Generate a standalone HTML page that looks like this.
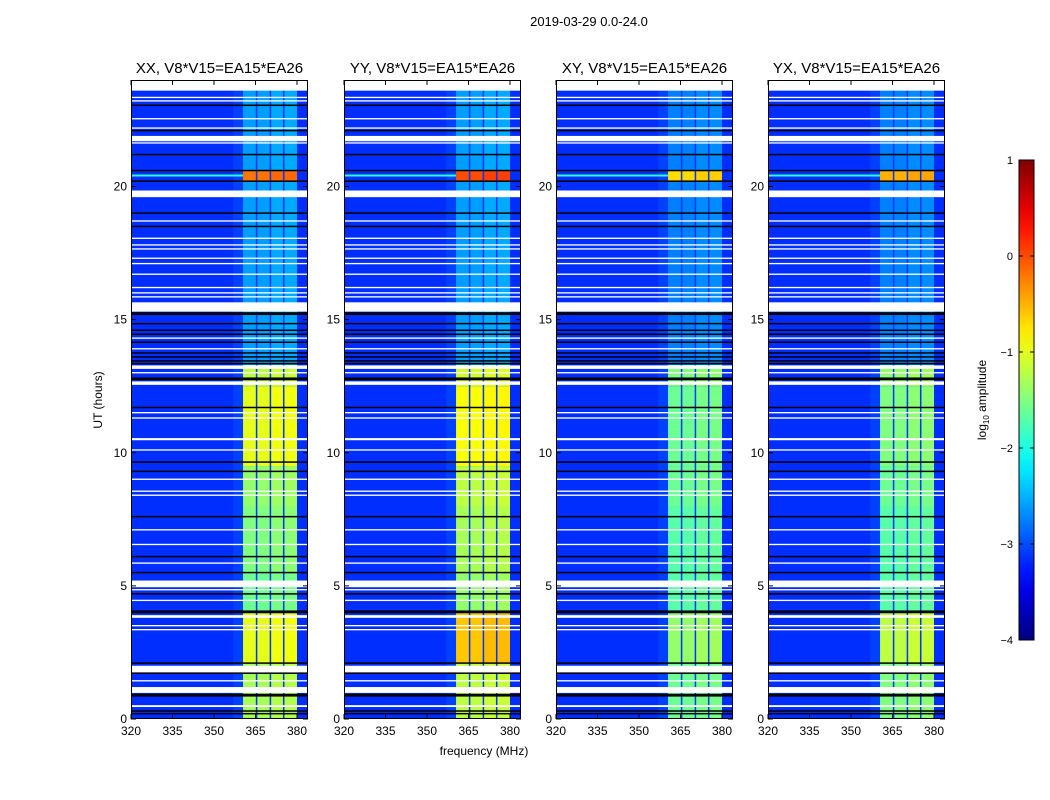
<!DOCTYPE html>
<html><head><meta charset="utf-8"><style>
html,body{margin:0;padding:0;background:#fff;}
svg{display:block;font-family:"Liberation Sans",sans-serif;}
</style></head><body>
<svg id="fig" width="1050" height="800" viewBox="0 0 1050 800"></svg>
<script>
// ---- data ----
const panelTitles = ["XX, V8*V15=EA15*EA26","YY, V8*V15=EA15*EA26","XY, V8*V15=EA15*EA26","YX, V8*V15=EA15*EA26"];
const xTicks = [320,335,350,365,380];
const yTicks = [0,5,10,15,20];
const cbTicks = [1,0,-1,-2,-3,-4];
const backgroundLevel = [-3.15,-3.15,-3.15,-3.15];
// band sub-channel edges (MHz)
const subBands = [[360.5,365.3],[365.3,370.3],[370.3,375.1],[375.1,380]];
// band segments: [start hour, end hour]
const segHours = [[0,2.1],[2.1,4],[4,5.5],[5.5,8],[8,9.5],[9.5,12.5],[12.5,13.3],[13.3,20.2],[20.2,20.6],[20.6,24]];
// log10 amplitude per segment, per panel
const bandXX = [-1.3,-1.0,-1.6,-1.5,-1.4,-1.0,-1.2,-2.6,-0.2,-2.6];
const bandYY = [-1.2,-0.6,-1.4,-1.3,-1.2,-0.9,-1.1,-2.6,0.0,-2.6];
const bandXY = [-1.6,-1.4,-1.7,-1.7,-1.6,-1.6,-1.5,-2.75,-0.7,-2.75];
const bandYX = [-1.5,-1.2,-1.7,-1.7,-1.6,-1.5,-1.4,-2.75,-0.5,-2.75];
const bandValues = [bandXX,bandYY,bandXY,bandYX];
// flagged (white) time ranges in hours
const whiteRows = [[23.6,24],[23.32,23.37],[23.19,23.24],[22.52,22.57],[22.17,22.22],[21.7,21.9],[21.62,21.66],[19.6,19.85],
 [18.68,18.73],[18.03,18.08],[17.78,17.83],[17.63,17.68],[17.28,17.33],[17.08,17.13],[16.68,16.73],[16.18,16.23],[15.98,16.03],[15.83,15.88],
 [15.3,15.65],[14.28,14.33],[13.88,13.93],[13.15,13.28],[12.98,13.03],[12.55,12.68],[11.48,11.53],[11.28,11.33],[10.47,10.55],[10.08,10.13],
 [8.98,9.03],[8.53,8.58],[8.38,8.43],[7.08,7.13],[6.53,6.58],[5.83,5.88],[4.95,5.2],[4.83,4.88],[4.43,4.48],[3.8,3.9],[3.48,3.53],[3.33,3.38],
 [1.75,2.0],[1.41,1.46],[0.98,1.2],[0.45,0.52]];
// black lines (hours)
const blackLines = [23.05,22.1,21.2,20.6,20.2,19.0,18.5,15.25,15.2,14.85,14.6,14.45,14.15,13.75,13.6,13.45,13.35,12.8,12.75,
 11.7,9.65,9.3,7.6,6.1,5.5,4.7,4.05,4.0,2.1,1.72,0.92,0.87,0.3,0.2];
// ---- geometry ----
const panelLeft = [131,344,556,768];
const PW = 177, TOP = 80, BOT = 719;
function X(f, p){ return panelLeft[p] + (f-320)*(166/60); }
function Y(h){ return BOT - h*(BOT-TOP)/24; }
function jet(v){
  let t = (v+4)/5; t = Math.max(0,Math.min(1,t));
  const r = Math.max(0,Math.min(1,1.5-Math.abs(4*t-3)));
  const g = Math.max(0,Math.min(1,1.5-Math.abs(4*t-2)));
  const b = Math.max(0,Math.min(1,1.5-Math.abs(4*t-1)));
  return `rgb(${Math.round(r*255)},${Math.round(g*255)},${Math.round(b*255)})`;
}
const NS="http://www.w3.org/2000/svg";
const svg=document.getElementById('fig');
function el(tag, attrs, parent){ const e=document.createElementNS(NS,tag); for(const k in attrs) e.setAttribute(k,attrs[k]); (parent||svg).appendChild(e); return e; }
function txt(s, attrs, parent){ const e=el('text',attrs,parent); e.textContent=s; return e; }

const title = txt("2019-03-29 0.0-24.0",{x:589,y:26,'font-size':13,'text-anchor':'middle'});



for(let p=0;p<4;p++){
  const g=el('g',{});
  
  
  const bg=el('rect',{x:panelLeft[p],y:TOP,width:PW,height:BOT-TOP,fill:jet(backgroundLevel[p])},g);
  
  
  el('rect',{x:X(357,p),y:TOP,width:X(360.5,p)-X(357,p),height:BOT-TOP,fill:jet(-3.0),opacity:0.6},g);
  for(let s=0;s<segHours.length;s++){
    for(let b=0;b<subBands.length;b++){
      const v = bandValues[p][s] + (b===2||b===3 ? 0.06 : 0);
      const r=el('rect',{x:X(subBands[b][0],p)+(b?1:0),y:Y(segHours[s][1]),width:X(subBands[b][1],p)-X(subBands[b][0],p)-(b?1:0),height:Y(segHours[s][0])-Y(segHours[s][1]),fill:jet(v)},g);
      
      
    }
  }
  for(let b=1;b<subBands.length;b++){
    el('rect',{x:X(subBands[b][0],p)-0.5,y:TOP,width:1.2,height:BOT-TOP,fill:jet(-3.1)},g);
  }
  el('rect',{x:panelLeft[p],y:Y(20.45),width:X(360.5,p)-panelLeft[p],height:2,fill:jet(-1.9)},g);
  whiteRows.forEach(w=>{
    const r=el('rect',{x:panelLeft[p],y:Y(w[1]),width:PW,height:Math.max(1.3,Y(w[0])-Y(w[1])),fill:'#fff'},g);
    
    
  });
  blackLines.forEach(h=>{
    const r=el('rect',{x:panelLeft[p],y:Y(h)-0.75,width:PW,height:1.5,fill:'#000'},g);
    
    
  });
  const fr=el('rect',{x:panelLeft[p]+0.5,y:TOP+0.5,width:PW-1,height:BOT-TOP-1,fill:'none',stroke:'#000','stroke-width':1},g);
  
  
  const t=txt(panelTitles[p],{x:panelLeft[p]+PW/2,y:73,'font-size':15,'text-anchor':'middle'},g);
  
  
  xTicks.forEach(f=>{
    const x=X(f,p);
    el('line',{x1:x,x2:x,y1:BOT,y2:BOT-5,stroke:'#000'},g);
    el('line',{x1:x,x2:x,y1:TOP,y2:TOP+5,stroke:'#000'},g);
    const l=txt(String(f),{x:x,y:BOT+16,'font-size':12,'text-anchor':'middle'},g);
    
    
  });
  yTicks.forEach(h=>{
    const y=Y(h);
    el('line',{x1:panelLeft[p],x2:panelLeft[p]+5,y1:y,y2:y,stroke:'#000'},g);
    el('line',{x1:panelLeft[p]+PW,x2:panelLeft[p]+PW-5,y1:y,y2:y,stroke:'#000'},g);
    const l=txt(String(h),{x:panelLeft[p]-4,y:y+4,'font-size':12,'text-anchor':'end'},g);
    
    
  });
}
const yl=txt("UT (hours)",{x:0,y:0,'font-size':12,'text-anchor':'middle',transform:'translate(102,400) rotate(-90)'});


const xl=txt("frequency (MHz)",{x:484,y:755,'font-size':12,'text-anchor':'middle'});



const defs=el('defs',{});
const grad=el('linearGradient',{id:'jetg',x1:0,y1:1,x2:0,y2:0},defs);
for(let i=0;i<=20;i++){ el('stop',{offset:(i/20),'stop-color':jet(-4+5*i/20)},grad); }
const CBT=160, CBB=640, CBL=1019, CBW=15;
const cb=el('rect',{x:CBL,y:CBT,width:CBW,height:CBB-CBT,fill:'url(#jetg)',stroke:'#000','stroke-width':1});


cbTicks.forEach(v=>{
  const y=CBB-(v+4)/5*(CBB-CBT);
  el('line',{x1:CBL,x2:CBL+4,y1:y,y2:y,stroke:'#000'});
  el('line',{x1:CBL+CBW,x2:CBL+CBW-4,y1:y,y2:y,stroke:'#000'});
  const l=txt(v<0?'\u2212'+(-v):String(v),{x:CBL-6,y:y+4,'font-size':11,'text-anchor':'end'});
  
  
});
const cl=el('text',{'font-size':12,'text-anchor':'middle',transform:'translate(986,400) rotate(-90)'});
cl.innerHTML='log<tspan font-size="8" dy="3">10</tspan><tspan dy="-3"> amplitude</tspan>';


</script>
</body></html>
